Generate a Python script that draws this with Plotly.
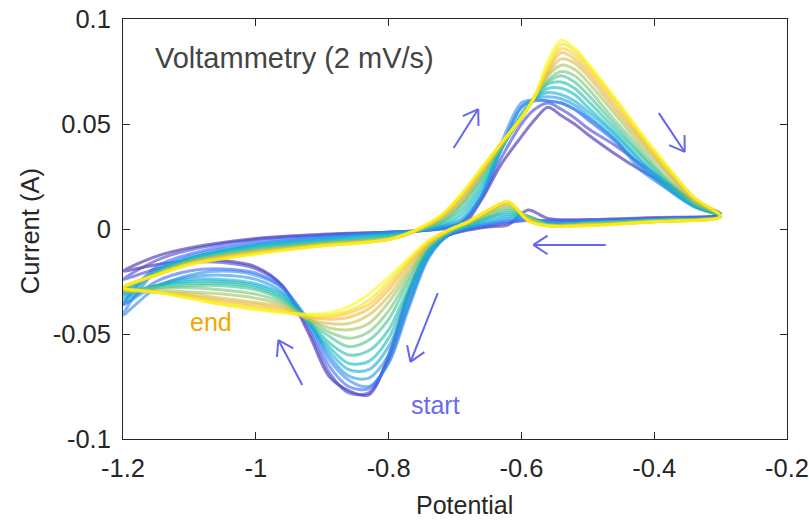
import math
import plotly.graph_objects as go
from plotly.colors import sample_colorscale

# Potential grid (V): cathodic sweep -0.3 -> -1.2, then anodic sweep back to -0.3
potential_cathodic = [-0.30, -0.40, -0.50, -0.56, -0.59, -0.62, -0.65, -0.68, -0.71, -0.74, -0.77,
                      -0.80, -0.83, -0.86, -0.89, -0.92, -0.96, -1.00, -1.05, -1.10, -1.15, -1.20]
potential_anodic = [-1.15, -1.10, -1.00, -0.90, -0.80, -0.76, -0.72, -0.69, -0.66, -0.63, -0.60,
                    -0.58, -0.56, -0.54, -0.52, -0.50, -0.46, -0.42, -0.38, -0.34, -0.30]

# Current (mA) for each cycle: 22 cathodic values followed by 21 anodic values
cycle_01 = [7, 5.5, 4.5, 5, 9, 2, 1, -0.5, -3, -10, -30, -60, -79, -77, -70, -50, -27, -18, -15, -15, -17, -20,
            -13, -9, -4.5, -2.5, -1.5, -1, 0, 1, 14, 31, 44, 52, 58, 54, 50, 45, 36, 28, 21, 13, 7]
cycle_02 = [7, 5, 4, 4, 4, 3, 1.5, 0, -3, -11, -32, -62, -78, -78, -68, -48, -27, -19, -16, -16, -19, -24,
            -15, -10, -5, -3, -1.5, -1, 0.5, 3, 15, 34, 50, 57, 60, 57, 53, 48, 40, 31, 22, 13, 7]
cycle_03 = [6.5, 5, 4, 3.5, 4.5, 3.5, 2, 0, -3, -13, -36, -63, -76, -75, -65, -46, -28, -21, -19, -20, -25, -36,
            -18, -12, -6, -3.5, -1.5, -1, 0.5, 3, 15, 38, 58, 61, 61, 60, 57, 52, 42, 30, 20, 11, 6.5]
cycle_04 = [6.5, 4.5, 3.5, 3, 5, 4, 2.5, 0.5, -3, -14, -38, -64, -75, -72, -62, -44, -28, -22, -20, -22, -28, -41,
            -20, -13, -7, -4, -1.5, -1, 0.5, 3, 16, 41, 60, 61.5, 61, 60, 57, 53, 43, 28, 19, 11, 6.5]
cycle_05 = [6, 4.5, 3.5, 3, 5.5, 5, 3, 1, -2.5, -13, -36, -60, -71, -70, -60, -44, -30, -24, -22, -23, -27, -36,
            -20, -14, -7.5, -4.5, -2, -1, 1, 4, 16, 39, 58, 62, 63, 62, 59, 54, 43, 30, 19, 10.5, 6]
cycle_06 = [6, 4.5, 3, 2.5, 6, 6, 4, 1, -2.5, -12, -33, -56, -67, -67, -58, -45, -31, -26, -24, -24, -27, -33,
            -20, -14, -8, -5, -2.5, -1, 1.5, 5, 18, 38, 55, 62, 65, 64, 61, 56, 45, 32, 20, 11, 6]
cycle_07 = [6, 4, 3, 2.5, 6, 7, 5, 1.5, -2, -11, -30, -52, -63, -64, -56, -45, -32, -27, -25, -25, -27, -31,
            -20, -14, -8.5, -5.5, -3, -1, 2, 7, 20, 38, 54, 62, 67, 67, 64, 58, 46, 33, 21, 11, 6]
cycle_08 = [6, 4, 3, 2, 6, 8, 5.5, 2, -2, -10, -28, -48, -58, -60, -54, -44, -33, -28, -26, -26, -27, -30,
            -21, -15, -9, -6, -3.5, -1, 3, 9, 22, 39, 53, 62, 69, 70, 67, 61, 48, 35, 22, 12, 6]
cycle_09 = [6, 4, 2.5, 2, 6, 9, 6, 2, -1.5, -9, -25, -43, -53, -56, -51, -44, -34, -29, -27, -27, -28, -30,
            -21, -15, -9.5, -6.5, -4, -1, 3.5, 11, 24, 39, 53, 63, 70, 73, 70, 64, 50, 36, 23, 12, 6]
cycle_10 = [6, 4, 2.5, 2, 6, 10, 7, 2.5, -1.5, -8, -23, -39, -49, -52, -49, -43, -35, -31, -29, -28, -28, -29,
            -21, -15.5, -10, -7, -4, -1, 4, 12, 25, 40, 53, 63, 71, 75, 73, 67, 52, 38, 24, 13, 6]
cycle_11 = [6, 4, 2.5, 2, 5.5, 11, 7.5, 3, -1, -8, -21, -35, -45, -48, -47, -43, -36, -33, -31, -30, -29, -29,
            -21.5, -16, -10.5, -7, -4.5, -1, 5, 13, 26, 40, 53, 63, 73, 78, 76, 70, 55, 40, 26, 13, 6]
cycle_12 = [6, 3.5, 2, 1.5, 5, 12, 8, 3, -1, -7, -19, -32, -41, -45, -45, -43, -37, -35, -33, -31, -30, -29,
            -21.5, -16, -11, -7.5, -4.5, -1, 5.5, 14, 27, 40, 53, 63, 74, 81, 79, 73, 57, 42, 27, 14, 6]
cycle_13 = [6, 3.5, 2, 1.5, 4.5, 12.5, 8.5, 3.5, -1, -7, -17, -29, -38, -42, -43, -42, -38, -36, -34, -32, -30, -28,
            -22, -16.5, -11, -7.5, -5, -1, 6, 15, 28, 41, 53, 63, 75, 84, 81, 75, 59, 43, 28, 14, 6]
cycle_14 = [6, 3.5, 2, 1.5, 4, 13, 9, 3.5, -0.5, -6, -16, -27, -36, -40, -42, -42, -39, -37, -35, -32, -30, -28,
            -22, -16.5, -11.5, -8, -5, -1, 6, 16, 28, 41, 53, 63, 76, 86, 83, 77, 61, 44, 29, 15, 6]
cycle_15 = [6, 3.5, 1.5, 1.5, 4, 13, 9, 3.5, -0.5, -6, -15, -25, -34, -39, -41, -41, -39.5, -38, -36, -33, -30, -28,
            -22, -17, -11.5, -8, -5, -0.5, 6.5, 16.5, 29, 41, 53, 63, 78, 88, 85, 78, 62, 45, 29, 15, 6]
cycle_16 = [6, 3.5, 1.5, 1.5, 4, 13, 9, 3.5, -0.5, -5.5, -14, -23, -31, -37, -40, -40.5, -40, -38.5, -36, -33, -30, -28,
            -22, -17, -12, -8, -5, -0.5, 7, 17, 29, 41, 53, 63, 80, 90, 86, 79, 63, 46, 30, 15, 6]

cycles = [cycle_01, cycle_02, cycle_03, cycle_04, cycle_05, cycle_06, cycle_07, cycle_08,
          cycle_09, cycle_10, cycle_11, cycle_12, cycle_13, cycle_14, cycle_15, cycle_16]

x_ticks = [-1.2, -1.0, -0.8, -0.6, -0.4, -0.2]
x_tick_text = ["-1.2", "-1", "-0.8", "-0.6", "-0.4", "-0.2"]
y_ticks = [-0.1, -0.05, 0, 0.05, 0.1]
y_tick_text = ["-0.1", "-0.05", "0", "0.05", "0.1"]

# Parula-like colour ramp from first cycle to last
parula = [[0.00, "#3e26a8"], [0.10, "#4656f0"], [0.20, "#2f86f5"], [0.30, "#1aa4e0"],
          [0.40, "#10b9c8"], [0.50, "#2cc1a2"], [0.60, "#72c77a"], [0.70, "#c0bf50"],
          [0.80, "#f2b83a"], [0.90, "#fbd42e"], [1.00, "#f9fb0e"]]
n = len(cycles)
colors = sample_colorscale(parula, [i / (n - 1) for i in range(n)])

potential = potential_cathodic + potential_anodic

fig = go.Figure()
for current_mA, col in zip(cycles, colors):
    fig.add_trace(go.Scatter(
        x=potential, y=[v / 1000 for v in current_mA], mode="lines",
        line=dict(color=col, width=3, shape="spline", smoothing=0.9),
        opacity=0.6, showlegend=False, hoverinfo="skip"))

W, H = 809, 521
M = dict(l=123, r=22, t=19, b=82)
X0, X1, Y0, Y1 = -1.2, -0.2, -0.1, 0.1
plot_w = W - M["l"] - M["r"]
plot_h = H - M["t"] - M["b"]
sx = plot_w / (X1 - X0)
sy = plot_h / (Y1 - Y0)

arrow_color = "#6666ee"
shapes = []


def add_arrow(tail, tip, head=17, ang=33):
    shapes.append(dict(type="line", xref="x", yref="y", x0=tail[0], y0=tail[1], x1=tip[0], y1=tip[1],
                       line=dict(color=arrow_color, width=2)))
    dx = (tip[0] - tail[0]) * sx
    dy = (tip[1] - tail[1]) * sy
    L = math.hypot(dx, dy)
    ux, uy = dx / L, dy / L
    for s in (1, -1):
        a = math.radians(ang) * s
        bx = -(ux * math.cos(a) - uy * math.sin(a)) * head
        by = -(ux * math.sin(a) + uy * math.cos(a)) * head
        shapes.append(dict(type="line", xref="x", yref="y", x0=tip[0], y0=tip[1],
                           x1=tip[0] + bx / sx, y1=tip[1] + by / sy,
                           line=dict(color=arrow_color, width=2)))


# Scan-direction arrows
add_arrow((-0.702, 0.0386), (-0.665, 0.0571))
add_arrow((-0.393, 0.0552), (-0.354, 0.0367))
add_arrow((-0.473, -0.0076), (-0.582, -0.0076))
add_arrow((-0.726, -0.0305), (-0.767, -0.0633))
add_arrow((-0.930, -0.0743), (-0.966, -0.0529))

font_family = "Arial, Liberation Sans, Helvetica, sans-serif"
axis_color = "#262626"

fig.update_layout(
    width=W, height=H, margin=dict(M, autoexpand=False),
    plot_bgcolor="white", paper_bgcolor="white",
    font=dict(family=font_family, color=axis_color),
    shapes=shapes,
    annotations=[
        dict(x=-1.155, y=0.0814, xref="x", yref="y", text="Voltammetry (2 mV/s)", showarrow=False,
             xanchor="left", yanchor="middle", font=dict(size=29, color="#444444")),
        dict(x=-0.770, y=-0.0838, xref="x", yref="y", text="start", showarrow=False,
             xanchor="left", yanchor="middle", font=dict(size=25, color="#6b6bef")),
        dict(x=-1.102, y=-0.0443, xref="x", yref="y", text="end", showarrow=False,
             xanchor="left", yanchor="middle", font=dict(size=25, color="#f0a800")),
        # axis titles
        dict(x=-0.685, y=-0.157, xref="x", yref="paper", text="Potential", showarrow=False,
             xanchor="center", yanchor="middle", font=dict(size=25, color=axis_color)),
        dict(x=-0.14, y=0.495, xref="paper", yref="paper", text="Current (A)", showarrow=False,
             textangle=-90, xanchor="center", yanchor="middle", font=dict(size=25.5, color=axis_color)),
    ],
)

fig.update_xaxes(range=[X0, X1], tickvals=x_ticks, ticktext=x_tick_text, automargin=False,
                 ticks="inside", ticklen=7, tickcolor=axis_color, mirror="ticks",
                 showline=True, linecolor=axis_color, linewidth=1, showgrid=False, zeroline=False,
                 tickfont=dict(size=25.5, color=axis_color), ticklabelstandoff=6)
fig.update_yaxes(range=[Y0, Y1], tickvals=y_ticks, ticktext=y_tick_text, automargin=False,
                 ticks="inside", ticklen=7, tickcolor=axis_color, mirror="ticks",
                 showline=True, linecolor=axis_color, linewidth=1, showgrid=False, zeroline=False,
                 tickfont=dict(size=25.5, color=axis_color), ticklabelstandoff=6)

fig.write_html("out.html")
